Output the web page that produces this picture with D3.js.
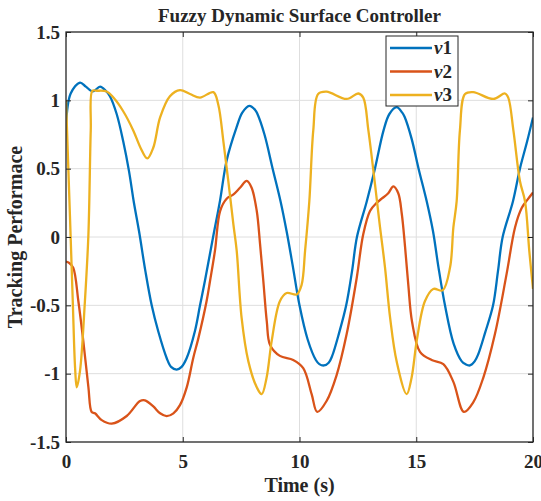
<!DOCTYPE html>
<html>
<head>
<meta charset="utf-8">
<script src="https://d3js.org/d3.v7.min.js"></script>
<style>
  body { margin: 0; background: #fff; }
  svg text { font-family: "Liberation Serif", "Times New Roman", serif; font-weight: bold; fill: #262626; }
</style>
</head>
<body>
<div id="chart"></div>
<script>
// values, time (s) and tracking value
const t1 = [0, 0.2, 0.6, 0.85, 1.15, 1.46, 1.7, 1.88, 2.17, 2.45, 2.7, 2.9, 3.13, 3.4, 3.67, 3.95, 4.31, 4.5, 4.74, 4.95, 5.17, 5.52, 5.74, 5.95, 6.3, 6.6, 6.88, 7.3, 7.55, 7.85, 8.1, 8.2, 8.5, 8.85, 9.19, 9.45, 9.7, 10.0, 10.35, 10.7, 10.85, 11.05, 11.25, 11.4, 11.7, 12.0, 12.25, 12.46, 12.88, 13.23, 13.6, 13.85, 14.16, 14.4, 14.5, 14.8, 15.1, 15.45, 15.72, 15.95, 16.23, 16.6, 16.95, 17.1, 17.3, 17.5, 17.65, 17.95, 18.29, 18.5, 18.7, 19.14, 19.44, 19.75, 20];
const v1 = [0.81, 1.05, 1.13, 1.10, 1.065, 1.10, 1.07, 1.03, 0.90, 0.70, 0.48, 0.26, 0.04, -0.25, -0.50, -0.69, -0.885, -0.95, -0.97, -0.95, -0.885, -0.69, -0.50, -0.32, 0.0, 0.27, 0.56, 0.80, 0.91, 0.96, 0.93, 0.90, 0.75, 0.50, 0.26, 0.04, -0.20, -0.50, -0.75, -0.90, -0.93, -0.94, -0.92, -0.87, -0.70, -0.50, -0.25, 0.0, 0.26, 0.50, 0.78, 0.90, 0.95, 0.91, 0.88, 0.72, 0.50, 0.26, 0.04, -0.22, -0.50, -0.78, -0.91, -0.93, -0.94, -0.91, -0.86, -0.70, -0.50, -0.25, 0.0, 0.26, 0.50, 0.70, 0.875];

const t2 = [0, 0.14, 0.31, 0.53, 0.74, 0.96, 1.1, 1.24, 1.53, 1.96, 2.6, 3.17, 3.38, 3.74, 4.03, 4.31, 4.6, 4.88, 5.17, 5.45, 5.67, 6.02, 6.17, 6.38, 6.6, 6.88, 7.16, 7.45, 7.74, 7.95, 8.17, 8.31, 8.45, 8.6, 8.74, 9.16, 9.73, 10.16, 10.52, 10.76, 11.16, 11.59, 12.02, 12.45, 12.73, 13.02, 13.3, 13.52, 13.8, 14.02, 14.23, 14.38, 14.52, 14.66, 14.82, 15.16, 15.66, 16.16, 16.59, 17.04, 17.44, 17.87, 18.37, 18.87, 19.23, 19.51, 19.75, 20];
const v2 = [-0.18, -0.19, -0.225, -0.47, -0.76, -1.10, -1.28, -1.29, -1.34, -1.366, -1.31, -1.20, -1.195, -1.24, -1.29, -1.31, -1.29, -1.23, -1.10, -0.885, -0.74, -0.47, -0.32, -0.10, 0.19, 0.28, 0.31, 0.36, 0.41, 0.36, 0.19, -0.05, -0.32, -0.62, -0.79, -0.87, -0.90, -0.96, -1.15, -1.28, -1.20, -1.01, -0.71, -0.30, 0.02, 0.19, 0.25, 0.28, 0.32, 0.37, 0.32, 0.17, -0.07, -0.35, -0.62, -0.84, -0.90, -0.93, -1.06, -1.28, -1.21, -1.03, -0.71, -0.27, 0.07, 0.21, 0.27, 0.325];

const t3 = [0, 0.17, 0.29, 0.39, 0.46, 0.6, 0.81, 0.96, 1.06, 1.13, 1.31, 1.74, 2.03, 2.45, 2.88, 3.2, 3.48, 3.74, 4.03, 4.45, 4.88, 5.31, 5.74, 6.31, 6.52, 6.74, 6.95, 7.17, 7.31, 7.52, 7.81, 8.17, 8.38, 8.59, 8.81, 9.16, 9.45, 9.88, 10.09, 10.24, 10.42, 10.59, 10.8, 11.16, 12.02, 12.52, 12.73, 12.95, 13.23, 13.45, 13.66, 13.88, 14.16, 14.59, 14.8, 15.02, 15.37, 15.73, 16.13, 16.45, 16.59, 16.73, 16.87, 17.09, 17.44, 18.3, 18.8, 18.94, 19.16, 19.44, 19.66, 19.84, 20];
const v3 = [1.0, 0.15, -0.47, -0.96, -1.10, -0.98, -0.47, 0.02, 0.78, 1.07, 1.07, 1.065, 1.02, 0.92, 0.78, 0.65, 0.575, 0.655, 0.875, 1.03, 1.075, 1.046, 1.02, 1.06, 0.97, 0.70, 0.41, 0.09, -0.10, -0.59, -0.91, -1.10, -1.15, -1.03, -0.76, -0.47, -0.41, -0.42, -0.35, -0.10, 0.26, 0.78, 1.046, 1.063, 1.01, 1.05, 1.02, 0.78, 0.39, 0.07, -0.22, -0.59, -0.91, -1.15, -1.03, -0.76, -0.47, -0.38, -0.39, -0.22, 0.07, 0.26, 0.78, 1.046, 1.06, 1.01, 1.05, 1.02, 0.78, 0.41, 0.26, -0.10, -0.38];

const seriesNames = ["ν1", "ν2", "ν3"];
const seriesColors = ["#0072BD", "#D95319", "#EDB120"];
const xTicks = [0, 5, 10, 15, 20];
const yTicks = [-1.5, -1, -0.5, 0, 0.5, 1, 1.5];

const width = 541, height = 501;
const margin = {top: 32, right: 8, bottom: 60, left: 66};

const svg = d3.select("#chart").append("svg")
  .attr("width", width)
  .attr("height", height);

const x = d3.scaleLinear().domain([0, 20]).range([margin.left, width - margin.right]);
const y = d3.scaleLinear().domain([-1.5, 1.5]).range([height - margin.bottom + 1, margin.top]);

const x0 = x.range()[0], x1 = x.range()[1], yTop = y.range()[1], yBot = y.range()[0];

// grid
svg.append("g").selectAll("line").data(xTicks.slice(1, -1)).join("line")
  .attr("x1", d => x(d)).attr("x2", d => x(d))
  .attr("y1", yTop).attr("y2", yBot)
  .attr("stroke", "#dedede").attr("stroke-width", 1);
svg.append("g").selectAll("line").data(yTicks.slice(1, -1)).join("line")
  .attr("x1", x0).attr("x2", x1)
  .attr("y1", d => y(d)).attr("y2", d => y(d))
  .attr("stroke", "#dedede").attr("stroke-width", 1);

// lines
svg.append("clipPath").attr("id", "clip")
  .append("rect").attr("x", x0).attr("y", yTop).attr("width", x1 - x0).attr("height", yBot - yTop);

const line = d3.line()
  .x(d => x(d[0])).y(d => y(d[1]))
  .curve(d3.curveCatmullRom.alpha(0.5));

const series = [d3.zip(t1, v1), d3.zip(t2, v2), d3.zip(t3, v3)];

svg.append("g").attr("clip-path", "url(#clip)")
  .selectAll("path").data(series).join("path")
  .attr("d", line)
  .attr("fill", "none")
  .attr("stroke", (d, i) => seriesColors[i])
  .attr("stroke-width", 2.3)
  .attr("stroke-linejoin", "round");

// axes, ticks inward, box on
const tickLen = 5;
const fmt = d => String(d); // plain hyphen like matlab
svg.append("g").attr("transform", `translate(0,${yBot})`)
  .call(d3.axisBottom(x).tickValues(xTicks).tickSize(-tickLen).tickPadding(13).tickSizeOuter(0).tickFormat(fmt))
  .call(g => g.select(".domain").remove())
  .call(g => g.selectAll("line").attr("stroke", "#262626"))
  .call(g => g.selectAll("text").attr("font-size", 19).attr("fill", "#262626"));
svg.append("g").attr("transform", `translate(0,${yTop})`)
  .call(d3.axisTop(x).tickValues(xTicks).tickSize(-tickLen).tickFormat("").tickSizeOuter(0))
  .call(g => g.select(".domain").remove())
  .call(g => g.selectAll("line").attr("stroke", "#262626"));
svg.append("g").attr("transform", `translate(${x0},0)`)
  .call(d3.axisLeft(y).tickValues(yTicks).tickSize(-tickLen).tickPadding(6).tickSizeOuter(0).tickFormat(fmt))
  .call(g => g.select(".domain").remove())
  .call(g => g.selectAll("line").attr("stroke", "#262626"))
  .call(g => g.selectAll("text").attr("font-size", 19).attr("fill", "#262626"));
svg.append("g").attr("transform", `translate(${x1},0)`)
  .call(d3.axisRight(y).tickValues(yTicks).tickSize(-tickLen).tickFormat("").tickSizeOuter(0))
  .call(g => g.select(".domain").remove())
  .call(g => g.selectAll("line").attr("stroke", "#262626"));

svg.append("rect")
  .attr("x", x0).attr("y", yTop).attr("width", x1 - x0).attr("height", yBot - yTop)
  .attr("fill", "none").attr("stroke", "#262626").attr("stroke-width", 1.3);

// title and labels
svg.append("text").attr("x", (x0 + x1) / 2).attr("y", 22)
  .attr("text-anchor", "middle").attr("font-size", 19)
  .text("Fuzzy Dynamic Surface Controller");
svg.append("text").attr("x", (x0 + x1) / 2).attr("y", 492)
  .attr("text-anchor", "middle").attr("font-size", 20)
  .text("Time (s)");
svg.append("text")
  .attr("transform", `translate(22,${(yTop + yBot) / 2}) rotate(-90)`)
  .attr("text-anchor", "middle").attr("font-size", 20)
  .text("Tracking Performace");

// legend
const lg = svg.append("g").attr("transform", "translate(386,36)");
lg.append("rect").attr("width", 72).attr("height", 70)
  .attr("fill", "#fff").attr("stroke", "#262626").attr("stroke-width", 1);
seriesNames.forEach((name, i) => {
  const yy = 12 + i * 23.5;
  lg.append("line").attr("x1", 4).attr("x2", 46).attr("y1", yy).attr("y2", yy)
    .attr("stroke", seriesColors[i]).attr("stroke-width", 2.3);
  const tx = lg.append("text").attr("x", 48).attr("y", yy + 6).attr("font-size", 19);
  tx.append("tspan").attr("font-style", "italic").text(name[0]);
  tx.append("tspan").text(name.slice(1));
});
</script>
</body>
</html>
